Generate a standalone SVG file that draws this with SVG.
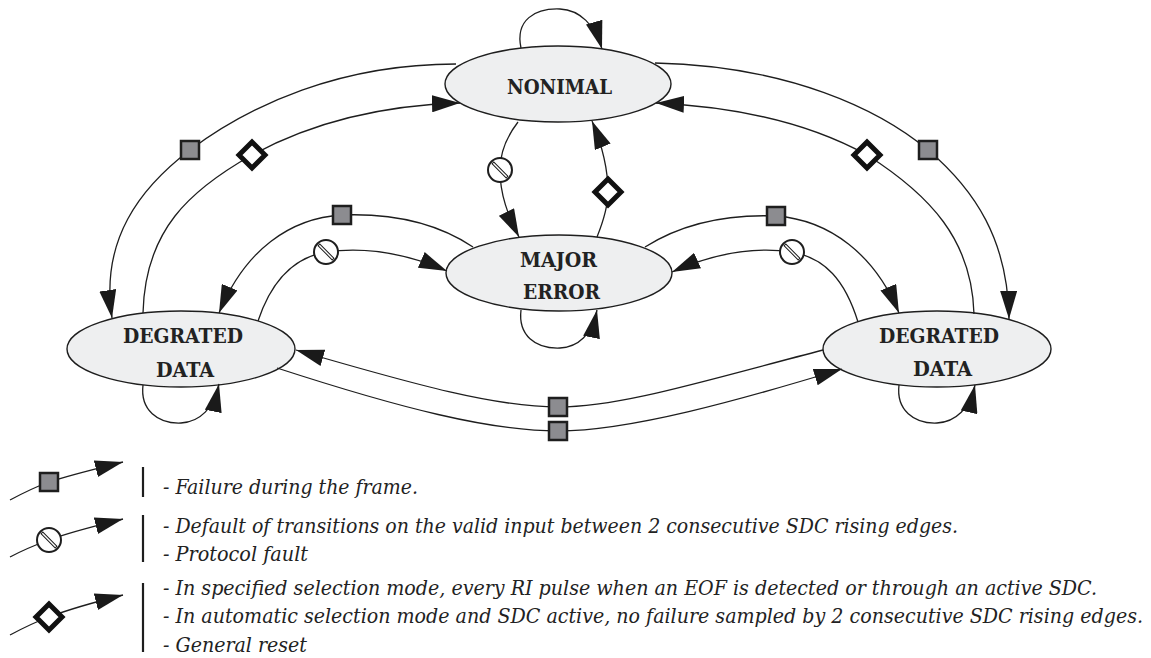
<svg xmlns="http://www.w3.org/2000/svg" xmlns:xlink="http://www.w3.org/1999/xlink" width="1151" height="658" viewBox="0 0 1151 658">
<style>
.node ellipse{fill:#eeeff0;stroke:#1e1e1e;stroke-width:1.4}
.lbl{font-family:'DejaVu Serif Condensed','DejaVu Serif',serif;font-weight:bold;font-size:20px;fill:#222;text-anchor:middle}
.edge{fill:none;stroke:#1e1e1e;stroke-width:1.3}
.arr{marker-end:url(#arrow)}
.leg{font-family:'DejaVu Serif Condensed','DejaVu Serif',serif;font-style:italic;font-size:20px;fill:#222}
.bar{stroke:#1e1e1e;stroke-width:2.2}
</style>
<defs>
<marker id="arrow" markerUnits="userSpaceOnUse" markerWidth="28" markerHeight="17" viewBox="0 0 28 17" refX="28" refY="8.5" orient="auto"><path d="M0,0 L28,8.5 L0,17 Z" fill="#1a1a1a"/></marker>
<g id="sq"><rect x="-9" y="-9" width="18" height="18" fill="#8c8c90" stroke="#1e1e1e" stroke-width="2.5"/></g>
<g id="dia"><path d="M0,-13 L13,0 L0,13 L-13,0 Z" fill="#fff" stroke="#111" stroke-width="5"/></g>
<g id="cir"><circle r="12" fill="#fff" stroke="#1e1e1e" stroke-width="2"/><rect x="-10" y="-1.2" width="20" height="2.4" transform="rotate(45)" fill="#fff" stroke="#1e1e1e" stroke-width="1"/></g>
</defs>

<g id="nonimal" class="node">
<ellipse cx="558" cy="84" rx="113" ry="38"/>
<text class="lbl" x="559.5" y="94" textLength="105" lengthAdjust="spacingAndGlyphs">NONIMAL</text>
</g>
<g id="major-error" class="node">
<ellipse cx="559" cy="273" rx="113" ry="38"/>
<text class="lbl" x="558.5" y="267" textLength="77" lengthAdjust="spacingAndGlyphs">MAJOR</text>
<text class="lbl" x="561.5" y="299" textLength="77" lengthAdjust="spacingAndGlyphs">ERROR</text>
</g>
<g id="degraded-left" class="node">
<ellipse cx="181" cy="349" rx="114" ry="38"/>
<text class="lbl" x="183" y="343" textLength="120" lengthAdjust="spacingAndGlyphs">DEGRATED</text>
<text class="lbl" x="185" y="377" textLength="58" lengthAdjust="spacingAndGlyphs">DATA</text>
</g>
<g id="degraded-right" class="node">
<ellipse cx="937" cy="349" rx="114" ry="38"/>
<text class="lbl" x="939" y="343" textLength="120" lengthAdjust="spacingAndGlyphs">DEGRATED</text>
<text class="lbl" x="942.5" y="376" textLength="59" lengthAdjust="spacingAndGlyphs">DATA</text>
</g>

<g id="connectors">
<path class="edge arr" d="M456,64 C340,64 250,105 190,150 C140,188 100,240 112,318"/>
<path class="edge arr" d="M143,313 C145,230 190,190 252,155 C320,118 390,105 460,103"/>
<path class="edge arr" d="M655,63 C790,66 880,110 928,150 C975,190 1008,240 1009,319"/>
<path class="edge arr" d="M974,314 C972,240 930,195 867,155 C800,118 720,106 656,103"/>
<path class="edge arr" d="M473,247 C440,225 395,213 342,215 C290,218 245,250 219,313"/>
<path class="edge arr" d="M258,321 C270,285 290,258 326,252 C370,246 410,255 447,271"/>
<path class="edge arr" d="M645,247 C680,225 725,214 776,216 C830,220 875,255 899,313"/>
<path class="edge arr" d="M858,322 C845,280 825,258 792,252 C750,246 710,255 672,272"/>
<path class="edge arr" d="M518,122 C508,135 500,150 500,170 C500,195 508,215 519,237"/>
<path class="edge arr" d="M597,237 C603,222 608,205 608,192 C608,170 602,145 592,121"/>
<path class="edge arr" d="M521,48 C515,20 535,8 560,9 C580,10 595,25 602,49"/>
<path class="edge arr" d="M521,310 C518,335 535,349 560,348 C578,347 592,335 597,310"/>
<path class="edge arr" d="M143,385 C140,410 158,424 181,423 C200,422 214,408 219,384"/>
<path class="edge arr" d="M899,385 C896,410 914,424 937,423 C956,422 970,408 975,385"/>
<path class="edge arr" d="M823,350 C700,382 620,407 558,407 C496,407 416,385 296,350"/>
<path class="edge arr" d="M277,368 C400,408 490,431 558,431 C630,431 740,400 842,369"/>
<use xlink:href="#sq" href="#sq" x="190" y="150"/>
<use xlink:href="#dia" href="#dia" x="252" y="155"/>
<use xlink:href="#sq" href="#sq" x="928" y="150"/>
<use xlink:href="#dia" href="#dia" x="867" y="155"/>
<use xlink:href="#sq" href="#sq" x="342" y="215"/>
<use xlink:href="#cir" href="#cir" x="326" y="252"/>
<use xlink:href="#sq" href="#sq" x="776" y="216"/>
<use xlink:href="#cir" href="#cir" x="792" y="252"/>
<use xlink:href="#cir" href="#cir" x="500" y="170"/>
<use xlink:href="#dia" href="#dia" x="608" y="192"/>
<use xlink:href="#sq" href="#sq" x="558" y="407"/>
<use xlink:href="#sq" href="#sq" x="558" y="431"/>
</g>

<g id="legend">
<path class="edge arr" d="M10,500 C25,492 38,486 49,482 C70,475 95,469 123,462"/>
<use xlink:href="#sq" href="#sq" x="49" y="482"/>
<line class="bar" x1="143" y1="467" x2="143" y2="497"/>
<text class="leg" x="163" y="494" textLength="255" lengthAdjust="spacingAndGlyphs">- Failure during the frame.</text>

<path class="edge arr" d="M10,557 C25,549 38,544 49,540 C70,532 95,526 123,519"/>
<use xlink:href="#cir" href="#cir" x="49" y="540"/>
<line class="bar" x1="143" y1="515" x2="143" y2="562"/>
<text class="leg" x="163" y="533" textLength="795" lengthAdjust="spacingAndGlyphs">- Default of transitions on the valid input between 2 consecutive SDC rising edges.</text>
<text class="leg" x="163" y="561" textLength="145" lengthAdjust="spacingAndGlyphs">- Protocol fault</text>

<path class="edge arr" d="M10,635 C25,627 38,621 49,617 C70,609 95,602 123,595"/>
<use xlink:href="#dia" href="#dia" x="49" y="617"/>
<line class="bar" x1="143" y1="583" x2="143" y2="652"/>
<text class="leg" x="163" y="595" textLength="934" lengthAdjust="spacingAndGlyphs">- In specified selection mode, every RI pulse when an EOF is detected or through an active SDC.</text>
<text class="leg" x="163" y="623" textLength="980" lengthAdjust="spacingAndGlyphs">- In automatic selection mode and SDC active, no failure sampled by 2 consecutive SDC rising edges.</text>
<text class="leg" x="163" y="652" textLength="144" lengthAdjust="spacingAndGlyphs">- General reset</text>
</g>
</svg>
